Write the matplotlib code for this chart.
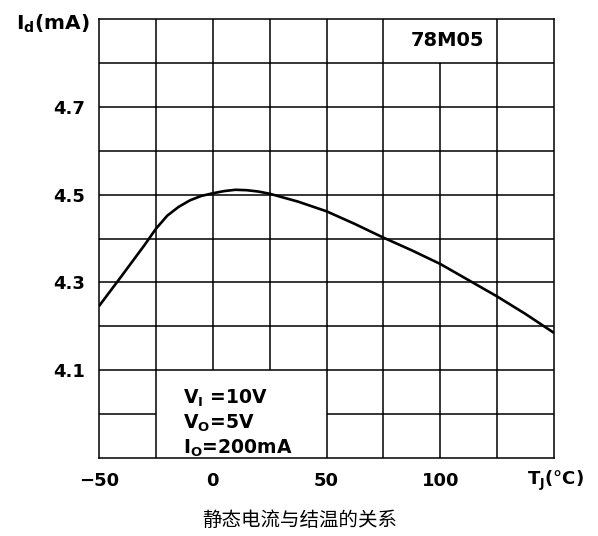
import matplotlib
matplotlib.use("Agg")
import matplotlib.pyplot as plt

plt.rcParams['mathtext.fontset'] = 'custom'
plt.rcParams['mathtext.rm'] = 'DejaVu Sans:bold'
plt.rcParams['mathtext.it'] = 'DejaVu Sans:bold'
plt.rcParams['mathtext.bf'] = 'DejaVu Sans:bold'

# Data
temp_c = [-50, -40, -30, -25, -20, -15, -10, -5, 0, 5, 10, 15, 20, 25,
          37.5, 50, 62.5, 75, 87.5, 100, 112.5, 125, 137.5, 150]
id_ma = [4.246, 4.315, 4.385, 4.422, 4.452, 4.472, 4.487, 4.497, 4.503, 4.508,
         4.511, 4.510, 4.507, 4.502, 4.484, 4.462, 4.433, 4.402, 4.373, 4.342,
         4.305, 4.268, 4.228, 4.185]

x_ticks = [-50, 0, 50, 100]
x_ticklabels = ['\u221250', '0', '50', '100']
y_ticks = [4.1, 4.3, 4.5, 4.7]
y_ticklabels = ['4.1', '4.3', '4.5', '4.7']
x_grid = [-25, 0, 25, 50, 75, 100, 125]
y_grid = [4.0, 4.1, 4.2, 4.3, 4.4, 4.5, 4.6, 4.7, 4.8]
conditions = [r'$\mathrm{V_I}$ =10V', r'$\mathrm{V_O}$=5V', r'$\mathrm{I_O}$=200mA']
device = '78M05'
caption = '静态电流与结温的关系'

fig = plt.figure(figsize=(5.98, 5.36), dpi=100)
ax = fig.add_axes([99/598, 1-458/536, (554-99)/598, (458-19)/536])
xmin, xmax, ymin, ymax = -50, 150, 3.9, 4.9
ax.set_xlim(xmin, xmax)
ax.set_ylim(ymin, ymax)

lw_grid = 1.1
# vertical grid lines with gaps (label areas)
for xv in x_grid:
    if xv in (0, 25):
        ax.vlines(xv, 4.1, ymax, color='black', lw=lw_grid)
    elif xv == 100:
        ax.vlines(xv, ymin, 4.8, color='black', lw=lw_grid)
    else:
        ax.vlines(xv, ymin, ymax, color='black', lw=lw_grid)
# horizontal grid lines
for yv in y_grid:
    if abs(yv - 4.0) < 1e-9:
        ax.hlines(yv, xmin, -25, color='black', lw=lw_grid)
        ax.hlines(yv, 50, xmax, color='black', lw=lw_grid)
    else:
        ax.hlines(yv, xmin, xmax, color='black', lw=lw_grid)

for s in ax.spines.values():
    s.set_linewidth(lw_grid)
    s.set_color('black')

ax.plot(temp_c, id_ma, color='black', lw=1.9, solid_capstyle='butt', clip_on=True)

ax.set_xticks(x_ticks)
ax.set_xticklabels(x_ticklabels, fontsize=13, fontweight='bold')
ax.set_yticks(y_ticks)
ax.set_yticklabels(y_ticklabels, fontsize=13, fontweight='bold')
ax.tick_params(length=0, pad=10)

ax.text(-54, 4.89, r'$\mathrm{I_d}$(mA)', fontsize=14.5, fontweight='bold',
        ha='right', va='center')
ax.text(150.5, 3.848, r'$\mathrm{T_J}$(°C)', fontsize=13, fontweight='bold',
        ha='center', va='center')
ax.text(103, 4.85, device, fontsize=14, fontweight='bold', ha='center', va='center')

cy = [4.0365, 3.98, 3.923]
for t, yv in zip(conditions, cy):
    ax.text(-13, yv, t, fontsize=13.5, fontweight='bold', ha='left', va='center')

fig.text(300/598, 1-520/536, caption, fontsize=14, ha='center', va='center',
         family=['Noto Sans CJK SC', 'DejaVu Sans'])

fig.savefig('out.png', dpi=100)
